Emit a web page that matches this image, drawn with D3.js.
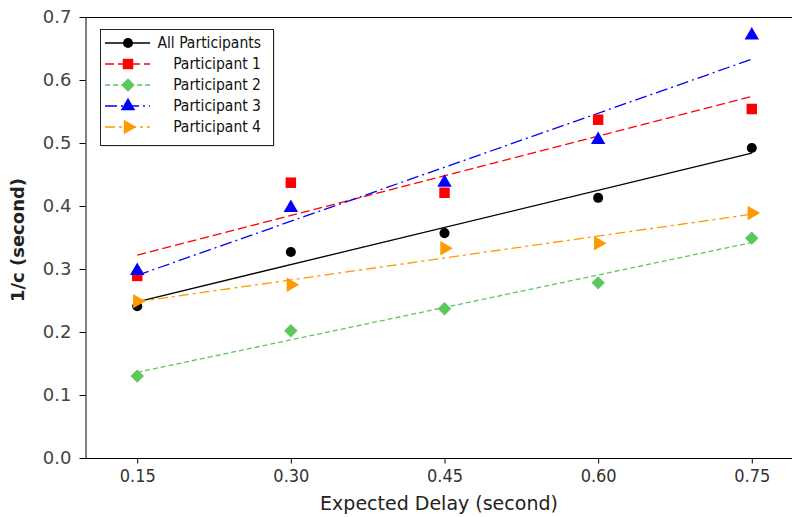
<!DOCTYPE html>
<html>
<head>
<meta charset="utf-8">
<script src="https://cdn.jsdelivr.net/npm/d3@7.9.0/dist/d3.min.js"></script>
<style>
  html, body { margin: 0; padding: 0; background: #fff; }
  svg { display: block; }
</style>
</head>
<body>
<svg id="chart" width="792" height="517"></svg>
<script>
// Data
const delays = [0.15, 0.30, 0.45, 0.60, 0.75];
const allParticipants = [0.241, 0.327, 0.357, 0.413, 0.492];
const participant1 = [0.289, 0.437, 0.421, 0.537, 0.554];
const participant2 = [0.130, 0.202, 0.237, 0.278, 0.349];
const participant3 = [0.297, 0.397, 0.437, 0.505, 0.671];
const participant4 = [0.249, 0.275, 0.333, 0.341, 0.389];

// fitted line ends at x = 0.15 and x = 0.75
const fitAll = [0.248, 0.484];
const fit1 = [0.322, 0.574];
const fit2 = [0.136, 0.342];
const fit3 = [0.290, 0.633];
const fit4 = [0.248, 0.387];

const xTicks = [0.15, 0.30, 0.45, 0.60, 0.75];
const yTicks = [0, 0.1, 0.2, 0.3, 0.4, 0.5, 0.6, 0.7];

const series = [
  { name: 'All Participants', values: allParticipants, fit: fitAll, color: '#000000', dash: null, symbol: d3.symbolCircle, size: 80, rotate: 0 },
  { name: 'Participant 1', values: participant1, fit: fit1, color: '#ff0000', dash: '9,4', symbol: d3.symbolSquare, size: 110, rotate: 0 },
  { name: 'Participant 2', values: participant2, fit: fit2, color: '#5cc85c', dash: '5,3', symbol: d3.symbolSquare, size: 90, rotate: 45 },
  { name: 'Participant 3', values: participant3, fit: fit3, color: '#0000ff', dash: '12,4,2,4', symbol: d3.symbolTriangle, size: 90, rotate: 0 },
  { name: 'Participant 4', values: participant4, fit: fit4, color: '#ff9900', dash: '10,4,3,4', symbol: d3.symbolTriangle, size: 90, rotate: 90 },
];

const svg = d3.select('#chart');
const plot = { left: 86, right: 803, top: 17, bottom: 458 };

const xScale = d3.scaleLinear().domain([0.10, 0.80]).range([plot.left, plot.right]);
const yScale = d3.scaleLinear().domain([0, 0.7]).range([plot.bottom, plot.top]);

// top frame line
svg.append('line')
  .attr('x1', plot.left - 6).attr('x2', 792)
  .attr('y1', plot.top + 0.5).attr('y2', plot.top + 0.5)
  .attr('stroke', '#000').attr('stroke-width', 1);

// axes
const xAxis = svg.append('g')
  .attr('transform', `translate(0, ${plot.bottom + 0.5})`)
  .call(d3.axisBottom(xScale).tickValues(xTicks).tickFormat(d3.format('.2f')).tickSize(5).tickSizeOuter(0));
xAxis.select('.domain').attr('d', `M${plot.left - 6},0H792`);

const yAxis = svg.append('g')
  .attr('transform', `translate(${plot.left - 0.5}, 0)`)
  .call(d3.axisLeft(yScale).tickValues(yTicks).tickFormat(d3.format('.1f')).tickSize(6).tickSizeOuter(0));

svg.selectAll('.domain').attr('stroke', '#000');
svg.selectAll('.tick line').attr('stroke', '#000');

xAxis.selectAll('.tick text')
  .attr('font-family', '"DejaVu Sans Condensed", "DejaVu Sans", sans-serif')
  .attr('font-size', 18)
  .attr('fill', '#333')
  .attr('dy', '0.85em');

yAxis.selectAll('.tick text')
  .attr('font-family', '"DejaVu Sans", sans-serif')
  .attr('font-size', 18)
  .attr('fill', '#444')
  .attr('x', -14);

// axis titles
svg.append('text')
  .attr('x', 439).attr('y', 510)
  .attr('text-anchor', 'middle')
  .attr('font-family', '"DejaVu Sans", sans-serif')
  .attr('font-size', 19)
  .attr('fill', '#222')
  .text('Expected Delay (second)');

svg.append('text')
  .attr('transform', `translate(24, ${240}) rotate(-90)`)
  .attr('text-anchor', 'middle')
  .attr('font-family', '"DejaVu Sans", sans-serif')
  .attr('font-size', 18)
  .attr('font-weight', 'bold')
  .attr('fill', '#222')
  .text('1/c (second)');

// fit lines
const fitX = [0.15, 0.75];
const lineGen = d3.line().x(d => xScale(d[0])).y(d => yScale(d[1]));

const marks = svg.append('g');
series.forEach(s => {
  marks.append('path')
    .datum(fitX.map((x, i) => [x, s.fit[i]]))
    .attr('d', lineGen)
    .attr('fill', 'none')
    .attr('stroke', s.color)
    .attr('stroke-width', 1.3)
    .attr('stroke-dasharray', s.dash);
});

series.forEach(s => {
  marks.append('g').selectAll('path')
    .data(delays.map((x, i) => [x, s.values[i]]))
    .join('path')
    .attr('d', d3.symbol(s.symbol, s.size))
    .attr('transform', d => `translate(${xScale(d[0])}, ${yScale(d[1])}) rotate(${s.rotate})`)
    .attr('fill', s.color);
});

// legend
const legend = svg.append('g').attr('transform', 'translate(100, 29)');
legend.append('rect')
  .attr('x', 2).attr('y', 2).attr('width', 173).attr('height', 116)
  .attr('fill', '#e6e6e6');
legend.append('rect')
  .attr('x', 0.5).attr('y', 0.5).attr('width', 173).attr('height', 116)
  .attr('fill', '#fff').attr('stroke', '#222').attr('stroke-width', 1);

series.forEach((s, i) => {
  const y = 14 + i * 21;
  const row = legend.append('g').attr('transform', `translate(0, ${y})`);
  row.append('line')
    .attr('x1', 5).attr('x2', 50).attr('y1', 0).attr('y2', 0)
    .attr('stroke', s.color).attr('stroke-width', 1.3)
    .attr('stroke-dasharray', s.dash);
  row.append('path')
    .attr('d', d3.symbol(s.symbol, s.size))
    .attr('transform', `translate(28, 0) rotate(${s.rotate})`)
    .attr('fill', s.color);
  row.append('text')
    .attr('x', 161).attr('y', 0).attr('dy', '0.35em')
    .attr('text-anchor', 'end')
    .attr('font-family', '"DejaVu Sans Condensed", "DejaVu Sans", sans-serif')
    .attr('font-size', 15.5)
    .attr('fill', '#111')
    .text(s.name);
});
</script>
</body>
</html>
